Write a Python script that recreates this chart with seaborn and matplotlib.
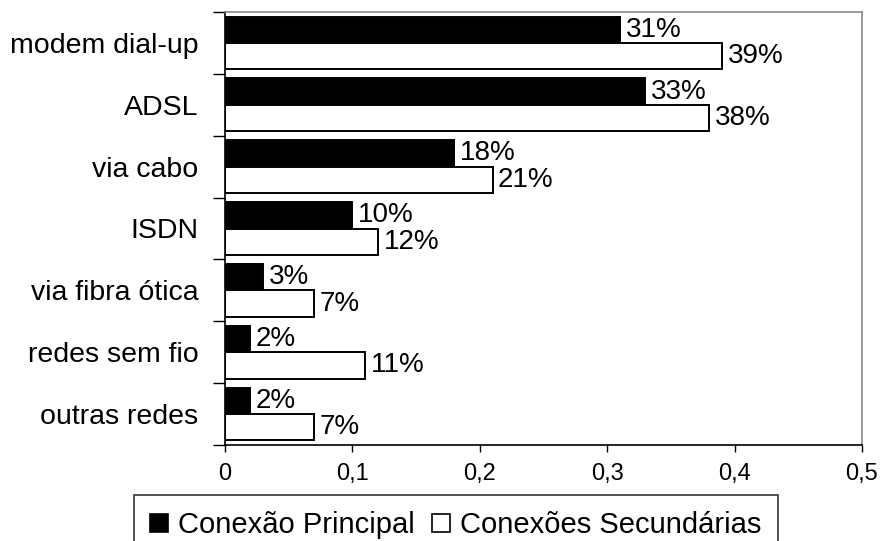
import numpy as np
import pandas as pd
import matplotlib
matplotlib.use("Agg")
import matplotlib.pyplot as plt
from matplotlib.patches import Patch
import seaborn as sns

categorias = ['modem dial-up', 'ADSL', 'via cabo', 'ISDN',
              'via fibra ótica', 'redes sem fio', 'outras redes']
principal = [0.31, 0.33, 0.18, 0.10, 0.03, 0.02, 0.02]
secundarias = [0.39, 0.38, 0.21, 0.12, 0.07, 0.11, 0.07]
series = ['Conexão Principal', 'Conexões Secundárias']
xticks = [0, 0.1, 0.2, 0.3, 0.4, 0.5]
xticklabels = ['0', '0,1', '0,2', '0,3', '0,4', '0,5']

df = pd.DataFrame({
    'categoria': categorias * 2,
    'valor': principal + secundarias,
    'serie': [series[0]] * len(categorias) + [series[1]] * len(categorias),
})

sns.set_style('white')
plt.rcParams['font.family'] = ['Liberation Sans', 'DejaVu Sans']
plt.rcParams['text.color'] = 'black'
plt.rcParams['xtick.color'] = 'black'
plt.rcParams['ytick.color'] = 'black'
plt.rcParams['axes.labelcolor'] = 'black'

fig = plt.figure(figsize=(8.82, 5.41), dpi=100)
ax = fig.add_axes([225 / 882, 1 - 445 / 541, 637 / 882, 433 / 541])

sns.barplot(data=df, y='categoria', x='valor', hue='serie', orient='h',
            palette={series[0]: 'black', series[1]: 'white'},
            edgecolor='black', linewidth=1.4, width=0.85, saturation=1,
            order=categorias, hue_order=series, ax=ax, legend=False)

for cont, vals in zip(ax.containers, [principal, secundarias]):
    ax.bar_label(cont, labels=[f'{round(v * 100)}%' for v in vals],
                 padding=4, fontsize=20, color='black')

ax.set_xlim(0, 0.5)
ax.set_ylim(len(categorias) - 0.5, -0.5)
ax.set_xticks(xticks)
ax.set_xticklabels(xticklabels, fontsize=17, color='black')
ax.tick_params(axis='x', direction='out', length=5, width=1, pad=8,
               bottom=True, colors='black')

ax.set_yticks(np.arange(-0.5, len(categorias), 1))
ax.set_yticklabels([''] * (len(categorias) + 1))
ax.set_yticks(np.arange(len(categorias)), minor=True)
ax.set_yticklabels(categorias, minor=True, fontsize=20.5, color='black')
ax.tick_params(axis='y', which='major', direction='out', length=9, width=1,
               left=True, color='black')
ax.tick_params(axis='y', which='minor', length=0, pad=19, left=True)

ax.set_xlabel('')
ax.set_ylabel('')

for s in ['top', 'right']:
    ax.spines[s].set_color('#8a8a8a')
    ax.spines[s].set_linewidth(1.2)
for s in ['left', 'bottom']:
    ax.spines[s].set_color('black')
    ax.spines[s].set_linewidth(1.2)

handles = [Patch(facecolor='black', edgecolor='black', linewidth=1.2),
           Patch(facecolor='white', edgecolor='black', linewidth=1.2)]
leg = fig.legend(handles, series, loc='upper center',
                 bbox_to_anchor=(456 / 882, 1 - 495 / 541), ncol=2,
                 fontsize=21, frameon=True, fancybox=False,
                 handlelength=0.6, handleheight=0.6, handletextpad=0.35,
                 columnspacing=0.6, borderpad=0.55, borderaxespad=0)
leg.get_frame().set_edgecolor('black')
leg.get_frame().set_linewidth(1.2)

fig.savefig('out.png', dpi=100)
